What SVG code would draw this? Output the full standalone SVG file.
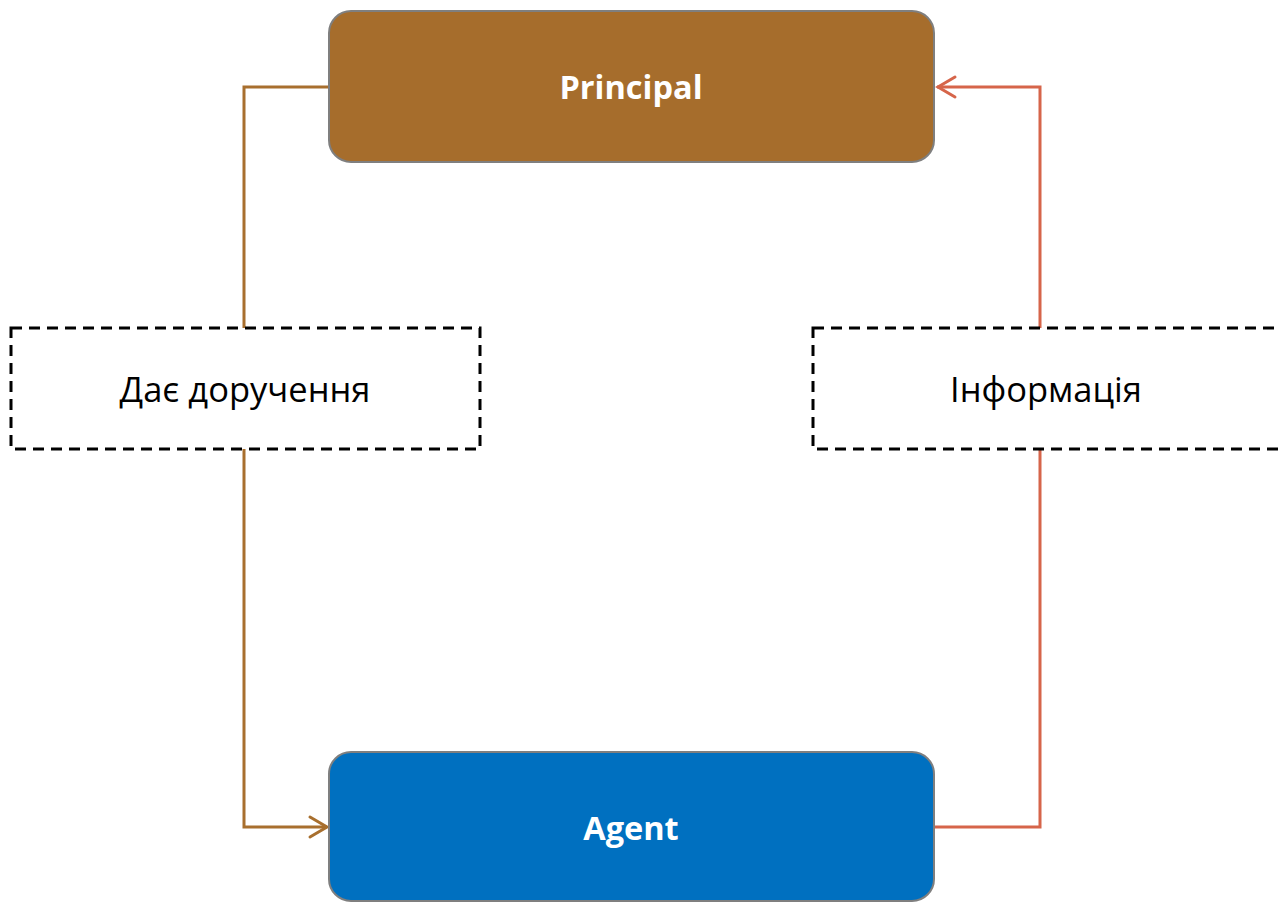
<svg xmlns="http://www.w3.org/2000/svg" width="1280" height="902" viewBox="0 0 1280 902">
<style>
.node{stroke:#7f7f7f;stroke-width:2}
.lbl{fill:#fff;font-family:"Open Sans","Noto Sans",sans-serif;font-weight:bold;font-size:32.5px}
.dash{fill:#fff;stroke:#000;stroke-width:3;stroke-dasharray:11 7}
.txt{fill:#000;font-family:"Open Sans","Noto Sans",sans-serif;font-size:34.5px}
.c{fill:none;stroke-width:3;stroke-linejoin:miter}
</style>
<g id="connectors">
<path class="c" stroke="#A86F2E" d="M329,87 H244 V328"/>
<path class="c" stroke="#A86F2E" d="M244,449 V827 H327"/>
<path class="c" stroke="#A86F2E" stroke-linecap="round" d="M310,817 L327,827 L310,837"/>
<path class="c" stroke="#D6654A" d="M934,827 H1040 V449"/>
<path class="c" stroke="#D6654A" d="M1040,328 V87 H937"/>
<path class="c" stroke="#D6654A" stroke-linecap="round" d="M955,77 L938,87 L955,97"/>
</g>
<g id="principal">
<rect class="node" x="329" y="11" width="605" height="151" rx="22" fill="#A66D2C"/>
<text class="lbl" x="631" y="99" text-anchor="middle">Principal</text>
</g>
<g id="agent">
<rect class="node" x="329" y="752" width="605" height="149" rx="22" fill="#0070C0"/>
<text class="lbl" x="631" y="840" text-anchor="middle">Agent</text>
</g>
<g id="label-left">
<rect class="dash" x="11" y="328" width="469" height="121"/>
<text class="txt" x="245" y="402" text-anchor="middle">Дає доручення</text>
</g>
<g id="label-right">
<rect class="dash" x="813" y="328" width="469" height="121"/>
<text class="txt" x="1046" y="402" text-anchor="middle">Інформація</text>
</g>
</svg>
